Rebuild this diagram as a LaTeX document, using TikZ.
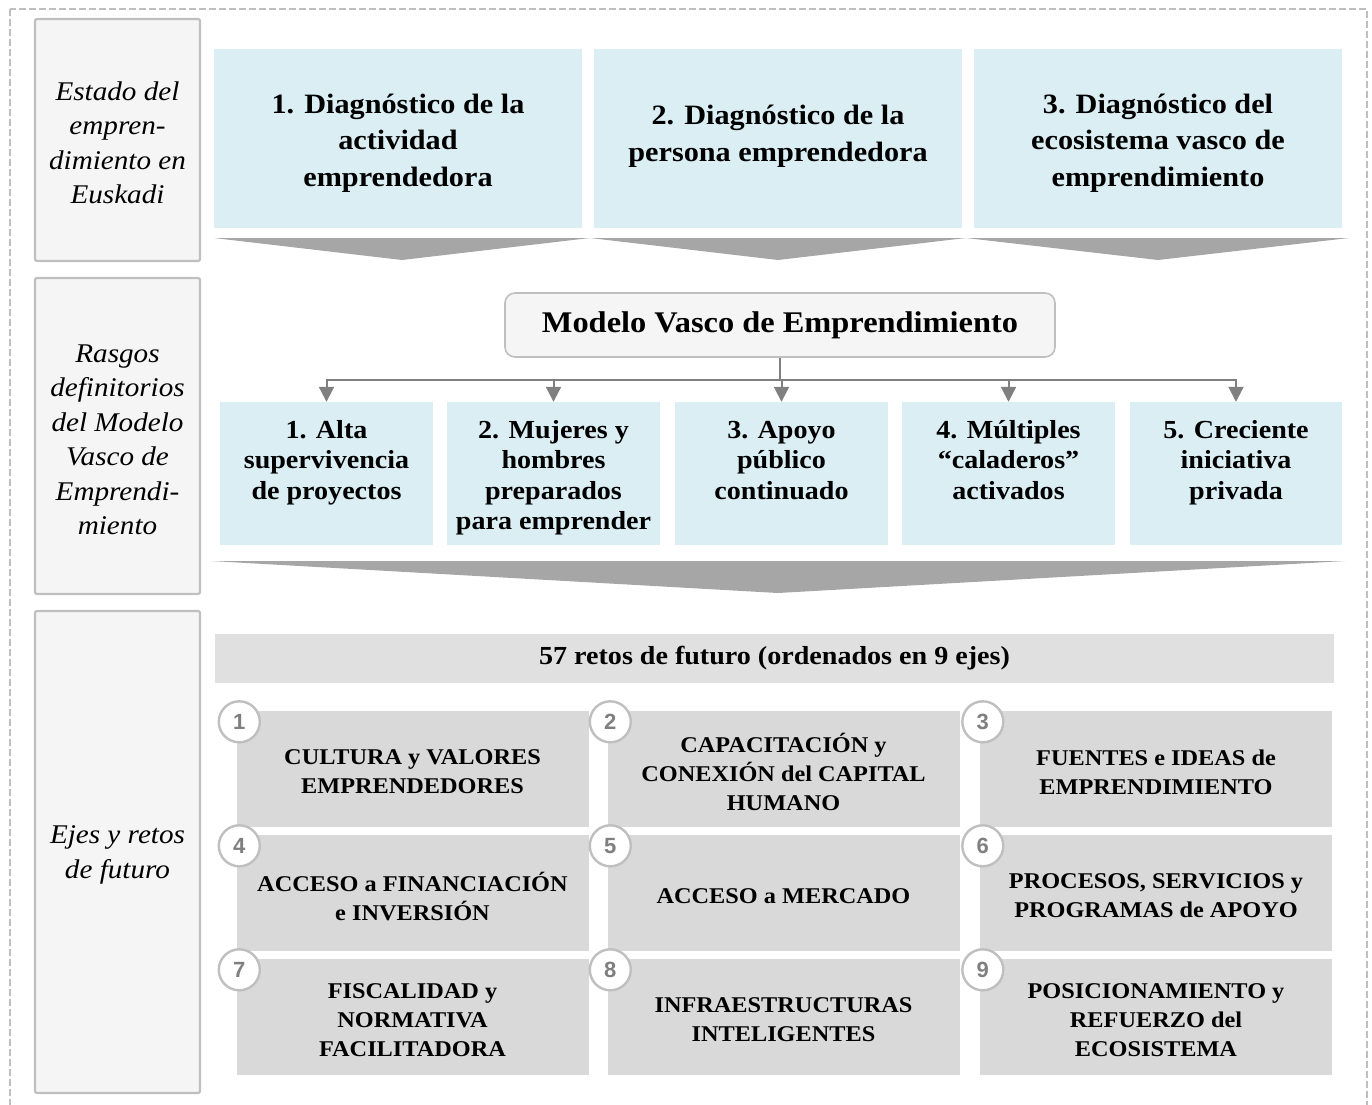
\documentclass[tikz,border=0pt]{standalone}
\usepackage{fontspec}
\setmainfont{Liberation Serif}[FakeStretch=1.08]
\newfontfamily\numfont{Liberation Sans}
\usetikzlibrary{arrows.meta,calc}
\definecolor{bluebox}{HTML}{DAEEF3}
\definecolor{graybox}{HTML}{D9D9D9}
\definecolor{barbox}{HTML}{E0E0E0}
\definecolor{lblfill}{HTML}{F5F5F5}
\definecolor{lbldraw}{HTML}{BFBFBF}
\definecolor{chevc}{HTML}{A6A6A6}
\definecolor{connc}{HTML}{808080}
\definecolor{numc}{HTML}{7F7F7F}
\tikzset{
  lblbox/.style={draw=lbldraw, line width=2.2pt, fill=lblfill, rounded corners=2pt,
    minimum width=165, inner sep=0pt},
  lbltxt/.style={align=center, inner sep=0pt, font=\fontsize{27}{34.5}\selectfont\itshape},
  topbox/.style={fill=bluebox, minimum width=368, minimum height=179, inner sep=0pt},
  toptxt/.style={align=center, inner sep=0pt, font=\fontsize{28}{36.5}\selectfont\bfseries},
  rowbox/.style={fill=bluebox, minimum height=143, inner sep=0pt},
  rowtxt/.style={align=center, anchor=north, inner sep=0pt, font=\fontsize{26}{30.5}\selectfont\bfseries},
  modelbox/.style={draw=lbldraw, line width=1.6pt, fill=lblfill, rounded corners=10pt,
    minimum width=550, minimum height=64, inner sep=0pt, font=\fontsize{30}{34}\selectfont\bfseries},
  barbox/.style={fill=barbox, minimum width=1119, minimum height=49, inner sep=0pt,
    font=\fontsize{26}{28}\selectfont\bfseries},
  ejebox/.style={fill=graybox, minimum width=352, minimum height=116, inner sep=0pt},
  ejetxt/.style={align=center, inner sep=0pt, font=\fontsize{22.5}{29}\selectfont\bfseries},
  numcirc/.style={circle, draw=lbldraw, line width=2.4pt, fill=white, minimum size=41, inner sep=0pt,
    text=numc, font=\numfont\bfseries\fontsize{22}{22}\selectfont},
  connline/.style={draw=connc, line width=2pt, -{Triangle[length=15pt,width=15pt]}},
  chevron/.style={fill=chevc, draw=none},
  outerframe/.style={draw=lbldraw, line width=2pt, dash pattern=on 7pt off 3pt}
}
\begin{document}
\begin{tikzpicture}[x=1pt,y=-1pt]
\useasboundingbox (0,0) rectangle (1372,1104);
\draw[outerframe] (10,9) rectangle (1367,1115);

% left labels
\node[lblbox, minimum height=242] (l1) at (117.5,140) {};
\node[lbltxt] (l1t) at (117.5,143) {Estado del\\empren-\\dimiento en\\Euskadi};
\node[lblbox, minimum height=316] (l2) at (117.5,436) {};
\node[lbltxt] (l2t) at (117.5,440) {Rasgos\\definitorios\\del Modelo\\Vasco de\\Emprendi-\\miento};
\node[lblbox, minimum height=482] (l3) at (117.5,852) {};
\node[lbltxt] (l3t) at (117.5,855) {Ejes y retos\\de futuro};

% top diagnostic boxes
\node[topbox] (t1) at (398,138.5) {};
\node[topbox] (t2) at (778,138.5) {};
\node[topbox] (t3) at (1158,138.5) {};
\node[toptxt] (t1t) at (398,143) {1. Diagnóstico de la\\actividad\\emprendedora};
\node[toptxt] (t2t) at (778,136) {2. Diagnóstico de la\\persona emprendedora};
\node[toptxt] (t3t) at (1158,143) {3. Diagnóstico del\\ecosistema vasco de\\emprendimiento};

% top chevrons
\fill[chevron] (214,238) -- (590,238) -- (402,260) -- cycle;
\fill[chevron] (590,238) -- (966,238) -- (778,260) -- cycle;
\fill[chevron] (966,238) -- (1349,238) -- (1158,260) -- cycle;

% model box
\node[modelbox] (modelo) at (780,325) {Modelo Vasco de Emprendimiento};

% row boxes
\node[rowbox, minimum width=213] (r1) at (326.5,473.5) {};
\node[rowbox, minimum width=213] (r2) at (553.5,473.5) {};
\node[rowbox, minimum width=213] (r3) at (781.5,473.5) {};
\node[rowbox, minimum width=213] (r4) at (1008.5,473.5) {};
\node[rowbox, minimum width=212] (r5) at (1236,473.5) {};
\node[rowtxt] (r1t) at ($(r1.north)+(0,16)$) {\rule{0pt}{20pt}1. Alta\\supervivencia\\de proyectos};
\node[rowtxt] (r2t) at ($(r2.north)+(0,16)$) {\rule{0pt}{20pt}2. Mujeres y\\hombres\\preparados\\para emprender};
\node[rowtxt] (r3t) at ($(r3.north)+(0,16)$) {\rule{0pt}{20pt}3. Apoyo\\público\\continuado};
\node[rowtxt] (r4t) at ($(r4.north)+(0,16)$) {\rule{0pt}{20pt}4. Múltiples\\“caladeros”\\activados};
\node[rowtxt] (r5t) at ($(r5.north)+(0,16)$) {\rule{0pt}{20pt}5. Creciente\\iniciativa\\privada};

% connectors
\foreach \r in {r1,r2,r3,r4,r5}{
  \draw[connline] (modelo.south) -- ++(0,22) -| (\r.north);
}

% big chevron
\fill[chevron] (211,561) -- (1345,561) -- (778,593) -- cycle;

% retos bar
\node[barbox] (retos) at (774.5,658.5) {57 retos de futuro (ordenados en 9 ejes)};

% eje boxes
\node[ejebox] (e1) at (412.5,769) {};
\node[ejebox] (e2) at (783.5,769) {};
\node[ejebox] (e3) at (1156,769) {};
\node[ejebox] (e4) at (412.5,893) {};
\node[ejebox] (e5) at (783.5,893) {};
\node[ejebox] (e6) at (1156,893) {};
\node[ejebox] (e7) at (412.5,1017) {};
\node[ejebox] (e8) at (783.5,1017) {};
\node[ejebox] (e9) at (1156,1017) {};

\node[ejetxt] (e1t) at ($(e1.center)+(0,3)$) {CULTURA y VALORES\\EMPRENDEDORES};
\node[ejetxt] (e2t) at ($(e2.center)+(0,3)$) {CAPACITACIÓN y\\CONEXIÓN del CAPITAL\\HUMANO};
\node[ejetxt] (e3t) at ($(e3.center)+(0,3)$) {FUENTES e IDEAS de\\EMPRENDIMIENTO};
\node[ejetxt] (e4t) at ($(e4.center)+(0,3)$) {ACCESO a FINANCIACIÓN\\e INVERSIÓN};
\node[ejetxt] (e5t) at ($(e5.center)+(0,3)$) {ACCESO a MERCADO};
\node[ejetxt] (e6t) at ($(e6.center)+(0,3)$) {PROCESOS, SERVICIOS y\\PROGRAMAS de APOYO};
\node[ejetxt] (e7t) at ($(e7.center)+(0,3)$) {FISCALIDAD y\\NORMATIVA\\FACILITADORA};
\node[ejetxt] (e8t) at ($(e8.center)+(0,3)$) {INFRAESTRUCTURAS\\INTELIGENTES};
\node[ejetxt] (e9t) at ($(e9.center)+(0,3)$) {POSICIONAMIENTO y\\REFUERZO del\\ECOSISTEMA};

% number circles
\foreach \e/\n in {e1/1,e2/2,e3/3,e4/4,e5/5,e6/6,e7/7,e8/8,e9/9}{
  \node[numcirc] (c\n) at ($(\e.north west)+(3,11)$) {\n};
}
\end{tikzpicture}
\end{document}
